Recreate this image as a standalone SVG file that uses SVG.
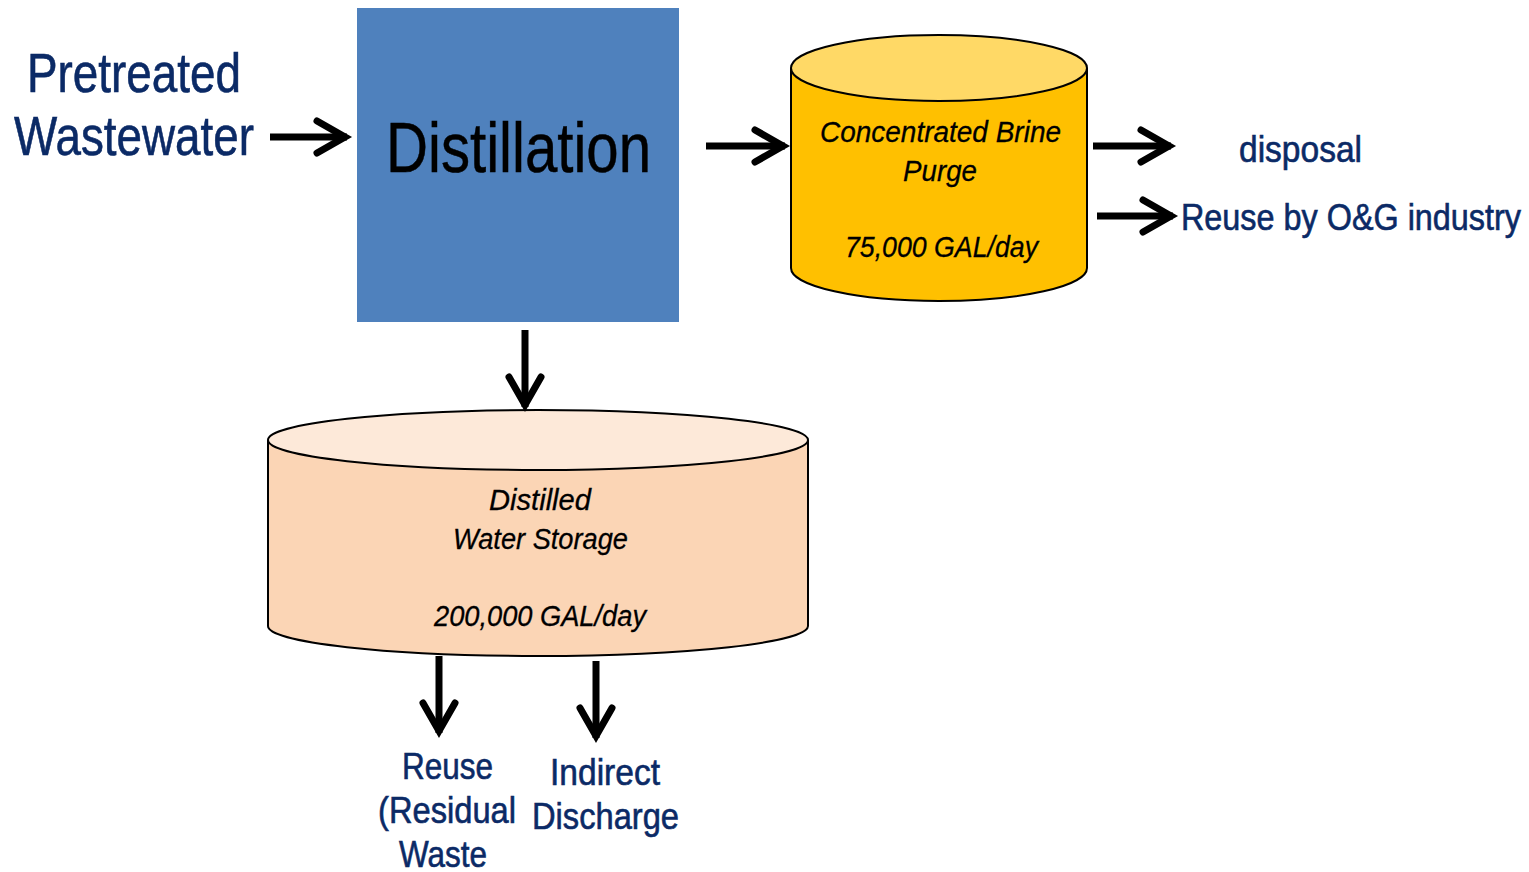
<svg xmlns="http://www.w3.org/2000/svg" width="1529" height="872" viewBox="0 0 1529 872">
<style>
.lbl{font-family:"Liberation Sans Narrow","Arial Narrow","Liberation Sans",sans-serif;fill:#0b2a66;stroke:#0b2a66;stroke-width:0.6;text-anchor:middle}
.it{font-family:"Liberation Sans Narrow","Arial Narrow","Liberation Sans",sans-serif;font-style:italic;fill:#000;stroke:#000;stroke-width:0.3;text-anchor:middle;font-size:30px}
.conn path{stroke:#000;stroke-width:7;fill:none;marker-end:url(#ah)}
.edge{stroke:#000;stroke-width:2}
</style>
<defs>
<marker id="ah" markerUnits="userSpaceOnUse" markerWidth="50" markerHeight="50" viewBox="-40 -25 50 50" refX="0" refY="0" orient="auto" overflow="visible">
<path d="M-30,-16 L-2,0 L-30,16" fill="none" stroke="#000" stroke-width="7" stroke-linecap="round" stroke-linejoin="miter"/>
</marker>
</defs>
<rect width="1529" height="872" fill="#fff"/>
<g id="input">
<text class="lbl" x="134" y="92" font-size="56" textLength="214" lengthAdjust="spacingAndGlyphs">Pretreated</text>
<text class="lbl" x="134" y="155" font-size="56" textLength="240" lengthAdjust="spacingAndGlyphs">Wastewater</text>
</g>
<g id="distillation">
<rect x="357" y="8" width="322" height="314" fill="#4f81bd"/>
<text x="518.5" y="172" font-family="'Liberation Sans Narrow','Arial Narrow','Liberation Sans',sans-serif" font-size="70" fill="#000" stroke="#000" stroke-width="0.5" text-anchor="middle" textLength="265" lengthAdjust="spacingAndGlyphs">Distillation</text>
</g>
<g id="brine">
<path d="M791,68 L791,268 A148,33 0 0 0 1087,268 L1087,68" fill="#ffc000" class="edge"/>
<ellipse cx="939" cy="68" rx="148" ry="33" fill="#ffd966" class="edge"/>
<text class="it" x="940.5" y="142" textLength="241" lengthAdjust="spacingAndGlyphs">Concentrated Brine</text>
<text class="it" x="940" y="181" textLength="74" lengthAdjust="spacingAndGlyphs">Purge</text>
<text class="it" x="941.5" y="257" textLength="193" lengthAdjust="spacingAndGlyphs">75,000 GAL/day</text>
</g>
<g id="disposal">
<text class="lbl" x="1300.5" y="162" font-size="36" textLength="123" lengthAdjust="spacingAndGlyphs">disposal</text>
</g>
<g id="reuse-og">
<text class="lbl" x="1351" y="230" font-size="36" textLength="340" lengthAdjust="spacingAndGlyphs">Reuse by O&amp;G industry</text>
</g>
<g id="storage">
<path d="M268,440 L268,626 A270,30 0 0 0 808,626 L808,440" fill="#fbd5b5" class="edge"/>
<ellipse cx="538" cy="440" rx="270" ry="30" fill="#fde9d9" class="edge"/>
<text class="it" x="540" y="510" textLength="102" lengthAdjust="spacingAndGlyphs">Distilled</text>
<text class="it" x="540.5" y="549" textLength="175" lengthAdjust="spacingAndGlyphs">Water Storage</text>
<text class="it" x="540" y="626" textLength="212" lengthAdjust="spacingAndGlyphs">200,000 GAL/day</text>
</g>
<g id="reuse-residual">
<text class="lbl" x="447.5" y="779" font-size="36" textLength="91" lengthAdjust="spacingAndGlyphs">Reuse</text>
<text class="lbl" x="447" y="823" font-size="36" textLength="138" lengthAdjust="spacingAndGlyphs">(Residual</text>
<text class="lbl" x="443" y="867" font-size="36" textLength="88" lengthAdjust="spacingAndGlyphs">Waste</text>
</g>
<g id="indirect">
<text class="lbl" x="605" y="785" font-size="36" textLength="110" lengthAdjust="spacingAndGlyphs">Indirect</text>
<text class="lbl" x="605.5" y="829" font-size="36" textLength="147" lengthAdjust="spacingAndGlyphs">Discharge</text>
</g>
<g class="conn" id="connectors">
<path d="M270,137 L347,137"/>
<path d="M706,146 L785,146"/>
<path d="M1093,146 L1171,146"/>
<path d="M1097,216 L1173,216"/>
<path d="M525,330 L525,407"/>
<path d="M439,656 L439,733"/>
<path d="M596,661 L596,738"/>
</g>
</svg>
